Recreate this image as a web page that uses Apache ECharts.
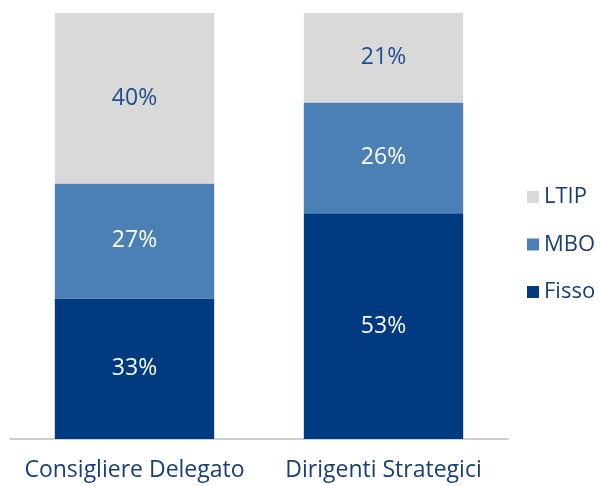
<!DOCTYPE html>
<html><head><meta charset="utf-8">
<script src="https://cdn.jsdelivr.net/npm/echarts@6/dist/echarts.min.js"></script>
<style>html,body{margin:0;padding:0;background:#fff}#c{width:600px;height:486px}</style>
</head><body><div id="c"></div>
<script>
const categories = ["Consigliere Delegato", "Dirigenti Strategici"];
const fisso = [33, 53];
const mbo = [27, 26];
const ltip = [40, 21];
const seriesNames = ["Fisso", "MBO", "LTIP"];
const colors = ["#003A80", "#4A80B6", "#D9D9D9"];
const labelColors = ["#ffffff", "#ffffff", "#1F4E8C"];
const font = "'Open Sans', 'Noto Sans', sans-serif";
const dataSets = [fisso, mbo, ltip];
const chart = echarts.init(document.getElementById('c'));
chart.setOption({
  animation: false,
  grid: {left: 10, right: 92, top: 13, bottom: 47, containLabel: false},
  legend: {
    orient: 'vertical', left: 522, top: 181, itemWidth: 12, itemHeight: 12, itemGap: 25.5,
    data: ["LTIP", "MBO", "Fisso"], icon: 'rect',
    textStyle: {color: '#1B3F73', fontSize: 22, fontFamily: font, padding: [0,0,0,0]}
  },
  xAxis: {
    type: 'category', data: categories,
    axisLine: {lineStyle: {color: '#BFBFBF', width: 1.5}},
    axisTick: {show: false},
    axisLabel: {color: '#1B3F73', fontSize: 23, fontFamily: font, margin: 20, interval: 0, hideOverlap: false}
  },
  yAxis: {type: 'value', min: 0, max: 100, show: false, splitLine: {show: false}},
  series: seriesNames.map((n, i) => ({
    name: n, type: 'bar', stack: 'a', barWidth: '64%',
    data: dataSets[i],
    itemStyle: {color: colors[i]},
    label: {show: true, position: 'inside', formatter: '{c}%', color: labelColors[i], fontSize: 23, fontFamily: font}
  }))
});
</script></body></html>
